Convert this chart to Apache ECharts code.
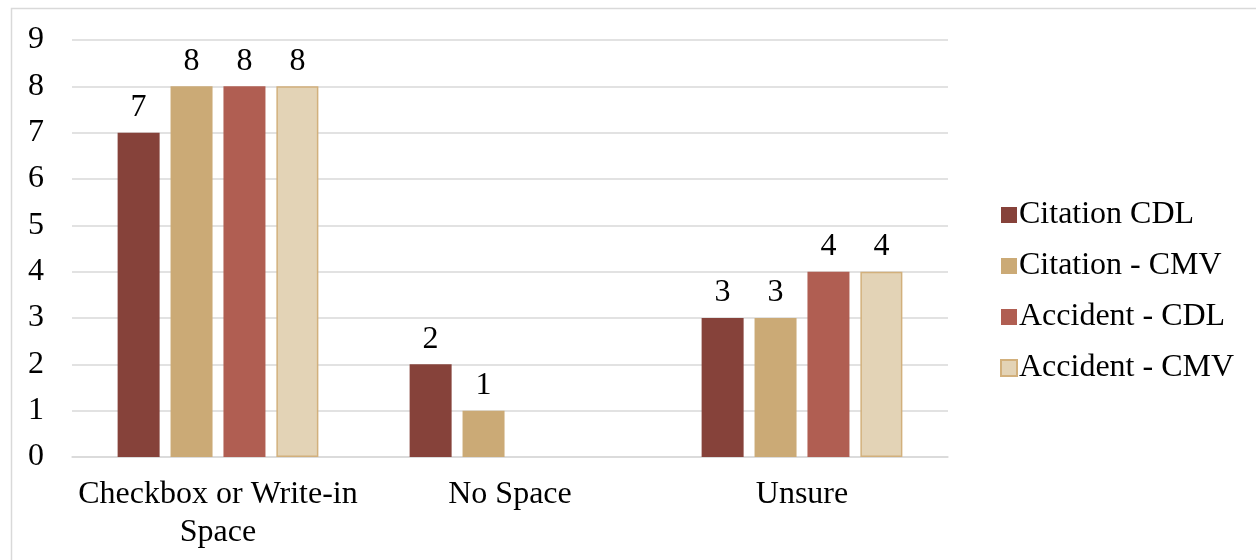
<!DOCTYPE html>
<html>
<head>
<meta charset="utf-8">
<script src="https://cdn.jsdelivr.net/npm/echarts@6/dist/echarts.min.js"></script>
<style>
  html, body { margin: 0; padding: 0; background: #fff; }
  #chart { width: 1256px; height: 560px; }
</style>
</head>
<body>
<div id="chart"></div>
<script>
// Response categories and counts per record type
const categories = ['Checkbox or Write-in\nSpace', 'No Space', 'Unsure'];
const citationCDL = [7, 2, 3];
const citationCMV = [8, 1, 3];
const accidentCDL = [8, null, 4];
const accidentCMV = [8, null, 4];
const yTicks = [0, 1, 2, 3, 4, 5, 6, 7, 8, 9];

const FONT = '"Liberation Serif", "DejaVu Serif", serif';
const FS = 32;

function barSeries(name, data, color, border) {
  return {
    name: name,
    type: 'bar',
    data: data,
    barWidth: 42,
    barGap: '26%',
    itemStyle: {
      color: color,
      borderColor: border || color,
      borderWidth: border ? 1.5 : 0
    },
    label: {
      show: true,
      position: 'top',
      distance: 9,
      color: '#000',
      fontFamily: FONT,
      fontSize: FS
    }
  };
}

const chart = echarts.init(document.getElementById('chart'), null, { renderer: 'canvas' });
chart.setOption({
  animation: false,
  backgroundColor: '#fff',
  textStyle: { fontFamily: FONT },
  graphic: [{
    type: 'rect',
    shape: { x: 11.5, y: 8.5, width: 1260, height: 570 },
    style: { fill: null, stroke: '#D9D9D9', lineWidth: 1.5 },
    silent: true,
    z: -1
  }],
  grid: { left: 72, right: 308, top: 40, bottom: 103, containLabel: false },
  legend: {
    orient: 'vertical',
    left: 995,
    top: 194,
    icon: 'rect',
    itemWidth: 16,
    itemHeight: 16,
    itemGap: 19,
    textStyle: {
      fontFamily: FONT, fontSize: FS, color: '#000',
      lineHeight: 30, padding: [0, 0, 0, -3]
    },
    data: ['Citation CDL', 'Citation - CMV', 'Accident - CDL', 'Accident - CMV']
  },
  xAxis: {
    type: 'category',
    data: categories,
    axisLine: { lineStyle: { color: '#D9D9D9', width: 1.5 } },
    axisTick: { show: false },
    axisLabel: {
      color: '#000',
      fontFamily: FONT,
      fontSize: FS,
      lineHeight: 38,
      margin: 19,
      interval: 0
    }
  },
  yAxis: {
    type: 'value',
    min: yTicks[0],
    max: yTicks[yTicks.length - 1],
    interval: 1,
    axisLine: { show: false },
    axisTick: { show: false },
    splitLine: { lineStyle: { color: '#D9D9D9', width: 1.5 } },
    axisLabel: {
      color: '#000',
      fontFamily: FONT,
      fontSize: FS,
      margin: 28
    }
  },
  series: [
    barSeries('Citation CDL', citationCDL, '#86423A'),
    barSeries('Citation - CMV', citationCMV, '#CBAA76'),
    barSeries('Accident - CDL', accidentCDL, '#B05E52'),
    barSeries('Accident - CMV', accidentCMV, '#E3D3B6', '#D2B07C')
  ]
});
</script>
</body>
</html>
